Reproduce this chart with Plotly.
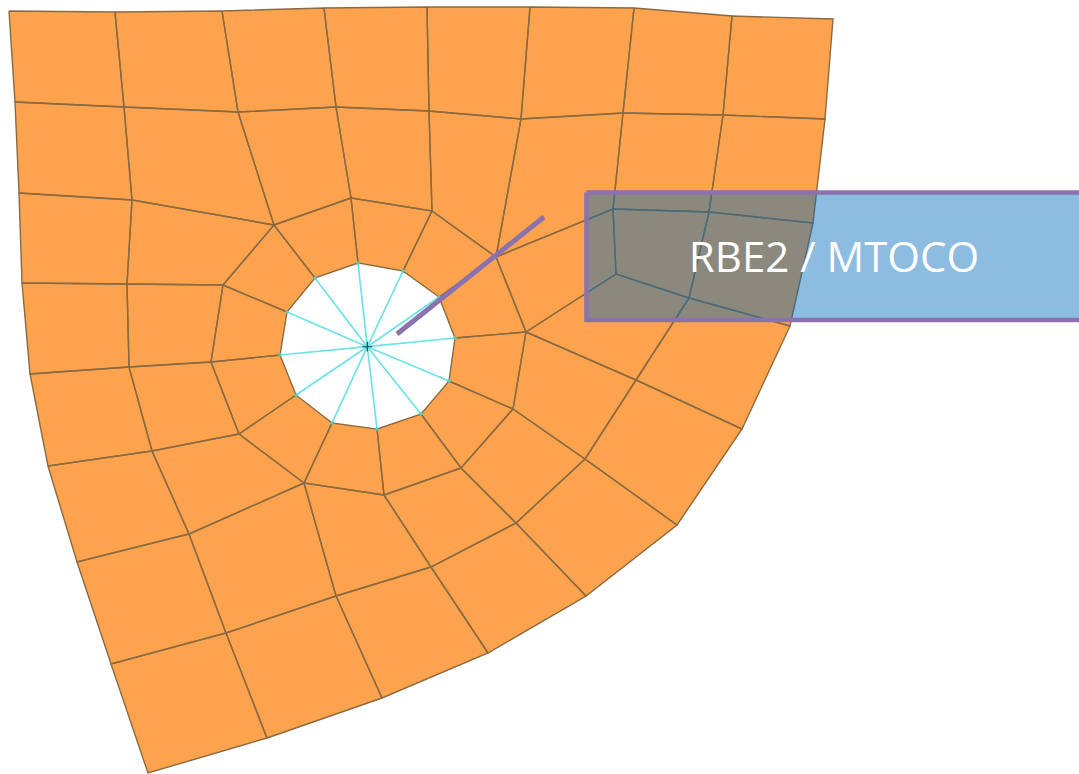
import plotly.graph_objects as go

# Mesh nodes (pixel-like model coordinates)
top_row = [(9, 11), (115, 12), (222, 11), (324, 8), (427, 7), (530, 7), (634, 8), (732, 16), (833, 19)]
row2 = [(15, 102), (124, 107), (238, 112), (336, 107), (429, 111), (521, 119), (623, 113), (723, 115), (825, 119)]
row3 = [(19, 193), (132, 200), (274, 225), (351, 198), (432, 211), (496, 257), (613, 209), (709, 212), (813, 223)]
ring = [(351, 198), (432, 211), (496, 257), (526, 332), (513, 409), (461, 468),
        (384, 495), (304, 483), (239, 434), (211, 362), (223, 285), (274, 225)]
hole = [(358, 263), (403, 271), (439, 297), (455, 338), (449, 381), (421, 414),
        (377, 429), (332, 423), (296, 395), (280, 355), (287, 312), (315, 278)]
hub = (367.3, 346.7)

# Remaining mesh elements, as corner lists
other_quads = [
    [(19, 193), (132, 200), (127, 284), (22, 283)],
    [(132, 200), (274, 225), (223, 285), (127, 284)],
    [(22, 283), (127, 284), (129, 367), (30, 374)],
    [(127, 284), (223, 285), (211, 362), (129, 367)],
    [(129, 367), (152, 451), (48, 466), (30, 374)],
    [(211, 362), (239, 434), (152, 451), (129, 367)],
    [(239, 434), (304, 483), (189, 534), (152, 451)],
    [(152, 451), (189, 534), (77, 562), (48, 466)],
    [(189, 534), (226, 633), (111, 664), (77, 562)],
    [(304, 483), (336, 596), (226, 633), (189, 534)],
    [(226, 633), (267, 738), (148, 773), (111, 664)],
    [(336, 596), (382, 698), (267, 738), (226, 633)],
    [(384, 495), (431, 567), (336, 596), (304, 483)],
    [(431, 567), (488, 653), (382, 698), (336, 596)],
    [(461, 468), (516, 523), (431, 567), (384, 495)],
    [(516, 523), (586, 596), (488, 653), (431, 567)],
    [(513, 409), (585, 459), (516, 523), (461, 468)],
    [(585, 459), (677, 525), (586, 596), (516, 523)],
    [(526, 332), (636, 380), (585, 459), (513, 409)],
    [(636, 380), (742, 429), (677, 525), (585, 459)],
    [(526, 332), (616, 274), (689, 298), (636, 380)],
    [(689, 298), (790, 326), (742, 429), (636, 380)],
    [(496, 257), (613, 209), (616, 274), (526, 332)],
    [(613, 209), (709, 212), (689, 298), (616, 274)],
    [(709, 212), (813, 223), (790, 326), (689, 298)],
]

box_x = [586.5, 1084, 1084, 586.5, 586.5]
box_y = [192.5, 192.5, 320, 320, 192.5]
arm_x = [397, 544]
arm_y = [334, 217]
label = "RBE2 / MTOCO"
label_pos = (834, 261.5)

quads = []
for a, b in ((top_row, row2), (row2, row3)):
    for i in range(len(a) - 1):
        quads.append([a[i], a[i + 1], b[i + 1], b[i]])
for i in range(len(ring)):
    j = (i + 1) % len(ring)
    quads.append([ring[i], ring[j], hole[j], hole[i]])
quads += other_quads

mesh_x, mesh_y = [], []
for q in quads:
    mesh_x += [p[0] for p in q] + [q[0][0], None]
    mesh_y += [p[1] for p in q] + [q[0][1], None]

spoke_x, spoke_y = [], []
for p in hole:
    spoke_x += [hub[0], p[0], None]
    spoke_y += [hub[1], p[1], None]

fig = go.Figure()
fig.add_trace(go.Scatter(x=spoke_x, y=spoke_y, mode="lines",
                         line=dict(color="#6BE3E8", width=1.7), hoverinfo="skip"))
fig.add_trace(go.Scatter(x=mesh_x, y=mesh_y, mode="lines", fill="toself",
                         fillcolor="#FDA34D", line=dict(color="#8A6A42", width=1.4),
                         hoverinfo="skip"))
fig.add_trace(go.Scatter(x=[p[0] for p in hole], y=[p[1] for p in hole], mode="markers",
                         marker=dict(color="#4FCFBF", size=3.5), hoverinfo="skip"))
fig.add_trace(go.Scatter(x=[hub[0]], y=[hub[1]], mode="markers",
                         marker=dict(symbol="cross-thin", size=7, line=dict(color="#2A3A55", width=1.1)),
                         hoverinfo="skip"))
fig.add_trace(go.Scatter(x=box_x, y=box_y, mode="lines", fill="toself",
                         fillcolor="rgba(0,107,187,0.45)",
                         line=dict(color="#8B72AE", width=4.5), hoverinfo="skip"))
fig.add_trace(go.Scatter(x=arm_x, y=arm_y, mode="lines",
                         line=dict(color="#8B72AE", width=5), hoverinfo="skip"))
fig.add_trace(go.Scatter(x=[label_pos[0]], y=[label_pos[1]], mode="text", text=[label],
                         textposition="middle center",
                         textfont=dict(family="Open Sans", size=42, color="white"),
                         hoverinfo="skip"))

fig.update_layout(width=1079, height=774, margin=dict(l=0, r=0, t=0, b=0),
                  showlegend=False, paper_bgcolor="white", plot_bgcolor="white",
                  xaxis=dict(range=[0, 1079], visible=False, fixedrange=True),
                  yaxis=dict(range=[774, 0], visible=False, fixedrange=True))
fig.write_html("out.html", config=dict(displayModeBar=False),
               post_script="document.body.style.margin='0';")
